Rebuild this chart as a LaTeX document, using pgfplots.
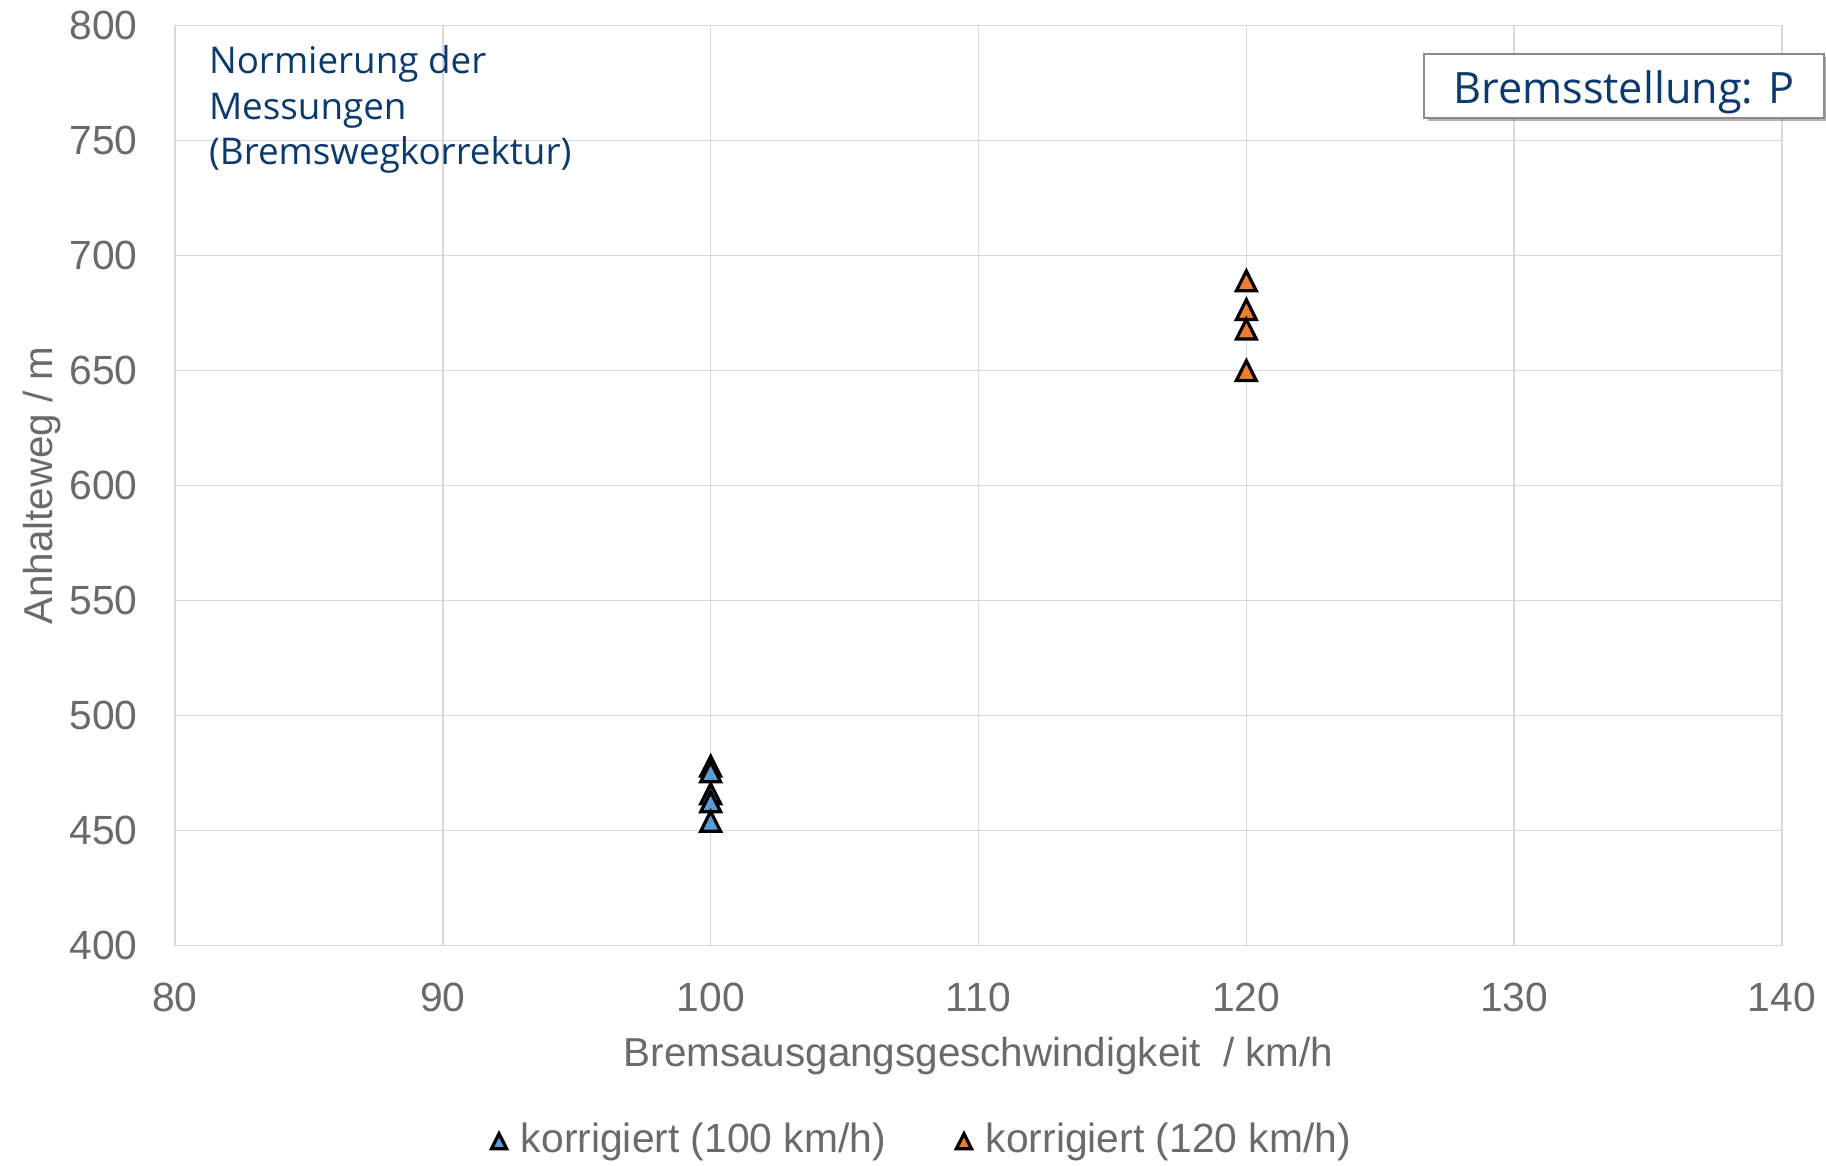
\documentclass[border=0pt]{standalone}
\usepackage{fontspec}
\setmainfont{Liberation Sans}
\newfontfamily\osans{Open Sans}
\usepackage{pgfplots}
\pgfplotsset{compat=1.18}
\usetikzlibrary{shadows}
\definecolor{gridc}{HTML}{D9D9D9}
\definecolor{tickc}{HTML}{6A6A6A}
\definecolor{annc}{HTML}{0B3A6E}
\definecolor{bluem}{HTML}{5B9BD5}
\definecolor{orangem}{HTML}{ED7D31}
\begin{document}
\begin{tikzpicture}
\useasboundingbox (-43.75pt,-54.85pt) rectangle (412.75pt,236.4pt);
\begin{axis}[
  at={(0,0)}, anchor=south west,
  scale only axis, width=401.75pt, height=230pt,
  xmin=80, xmax=140, ymin=400, ymax=800,
  xtick={80,90,...,140}, ytick={400,450,...,800},
  grid=major, grid style={gridc, line width=0.4pt},
  axis line style={gridc, line width=0.4pt},
  major tick length=0pt, tick style={draw=none},
  /pgf/number format/assume math mode=true,
  ticklabel style={font=\fontsize{10.2}{12}\selectfont, text=tickc},
  xticklabel style={anchor=center, yshift=-13pt},
  yticklabel style={anchor=east, inner sep=0pt, xshift=-9.2pt},
  xlabel={Bremsausgangsgeschwindigkeit\ \ / km/h},
  ylabel={Anhalteweg / m},
  label style={font=\fontsize{10.1}{12}\selectfont, text=tickc},
  xlabel style={at={(axis description cs:0.5,0)}, anchor=center, yshift=-27.65pt},
  ylabel style={at={(axis description cs:-0.0828,0.5)}, anchor=center},
  clip=false,
  legend columns=2,
  legend style={at={(axis description cs:0.189,-0.2126)}, anchor=west, draw=none, fill=none,
    overlay,
    font=\fontsize{10.2}{12}\selectfont, text=tickc,
    /tikz/every odd column/.append style={column sep=1.6pt},
    /tikz/every even column/.append style={column sep=15.6pt}},
  legend image code/.code={\draw[#1, mark size=2.5pt] plot coordinates {(0pt,0.2pt)};},
]
\addplot[only marks, mark=triangle*, mark size=3.3pt,
  mark options={xscale=0.87, yshift=-0.825pt, draw=black, fill=bluem, line width=0.8pt}]
  coordinates {(100,478) (100,475.5) (100,466) (100,462.5) (100,454)};
\addlegendentry{korrigiert (100 km/h)}
\addplot[only marks, mark=triangle*, mark size=3.3pt,
  mark options={xscale=0.87, yshift=-0.825pt, draw=black, fill=orangem, line width=0.8pt}]
  coordinates {(120,689) (120,676.5) (120,668) (120,650)};
\addlegendentry{korrigiert (120 km/h)}
\node[anchor=north west, align=left, inner sep=0pt, text=annc,
  font=\osans\fontsize{9.2}{11.35}\selectfont] at (axis cs:81.24,791.6)
  {Normierung der\\Messungen\\(Bremswegkorrektur)};
\node[draw=gray!90, line width=0.5pt, fill=white, minimum width=99.9pt, minimum height=16pt,
  inner sep=0pt, overlay,
  drop shadow={shadow xshift=0.9pt, shadow yshift=-0.9pt, fill=black, opacity=0.3}]
  at (axis cs:134.09,773.9) {};
\node[anchor=base, inner sep=0pt, text=annc, font=\osans\fontsize{10.8}{13}\selectfont]
  at (axis cs:134.09,766.3) {Bremsstellung: P};
\end{axis}
\end{tikzpicture}
\end{document}
